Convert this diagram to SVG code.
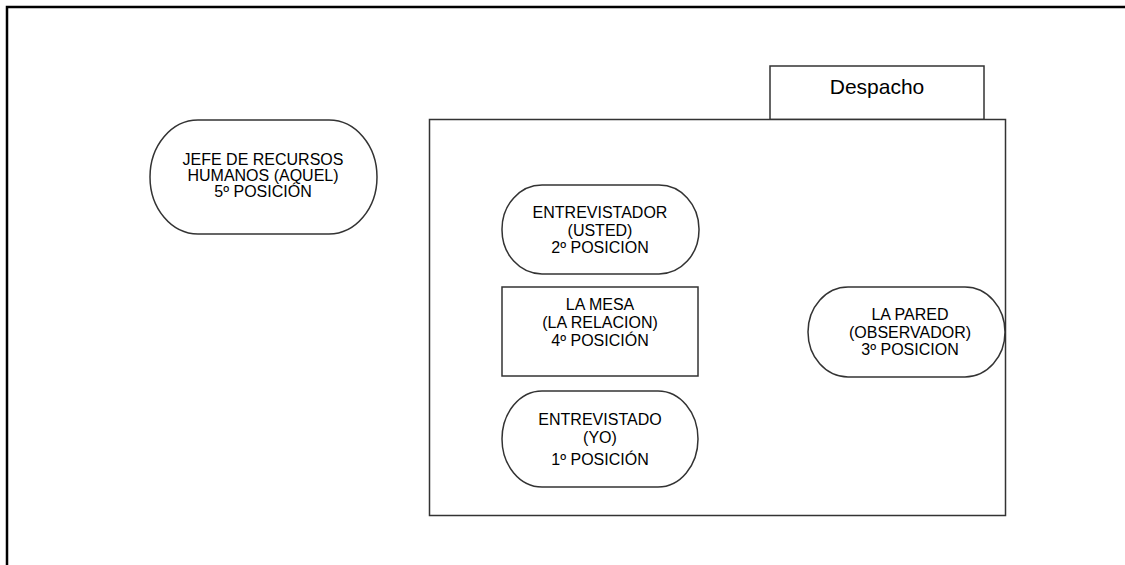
<svg xmlns="http://www.w3.org/2000/svg" width="1125" height="565" viewBox="0 0 1125 565">
<style>
.shape{fill:#fff;stroke:#333;stroke-width:1.5}
.t{font-family:"Liberation Sans",Arial,sans-serif;font-size:16px;fill:#000;text-anchor:middle}
.d{font-family:"Liberation Sans",Arial,sans-serif;font-size:21px;fill:#000;text-anchor:middle}
</style>
<rect width="1125" height="565" fill="#fff"/>
<g id="frame">
<path d="M7,565 V7 H1125" fill="none" stroke="#000" stroke-width="2.5"/>
</g>
<g id="despacho">
<rect class="shape" x="770" y="66" width="214" height="53.5"/>
<text class="d" x="877" y="94">Despacho</text>
<rect class="shape" x="429.5" y="119.5" width="576" height="396"/>
</g>
<g id="jefe">
<rect class="shape" x="150" y="120" width="227" height="114" rx="48" ry="57"/>
<text class="t" x="263" y="165">JEFE DE RECURSOS</text>
<text class="t" x="263" y="181">HUMANOS (AQUEL)</text>
<text class="t" x="263" y="197">5º POSICIÓN</text>
</g>
<g id="entrevistador">
<rect class="shape" x="502" y="185" width="197" height="89" rx="40" ry="44"/>
<text class="t" x="600" y="218">ENTREVISTADOR</text>
<text class="t" x="600" y="236">(USTED)</text>
<text class="t" x="600" y="253">2º POSICION</text>
</g>
<g id="mesa">
<rect class="shape" x="502" y="287" width="196" height="89"/>
<text class="t" x="600" y="310">LA MESA</text>
<text class="t" x="600" y="328">(LA RELACION)</text>
<text class="t" x="600" y="346">4º POSICIÓN</text>
</g>
<g id="entrevistado">
<rect class="shape" x="502" y="391" width="196" height="96" rx="40" ry="48"/>
<text class="t" x="600" y="425">ENTREVISTADO</text>
<text class="t" x="600" y="443">(YO)</text>
<text class="t" x="600" y="465">1º POSICIÓN</text>
</g>
<g id="pared">
<rect class="shape" x="808" y="287" width="197" height="90" rx="40" ry="45"/>
<text class="t" x="910" y="320">LA PARED</text>
<text class="t" x="910" y="338">(OBSERVADOR)</text>
<text class="t" x="910" y="355">3º POSICION</text>
</g>
<g id="connectors"></g>
</svg>
